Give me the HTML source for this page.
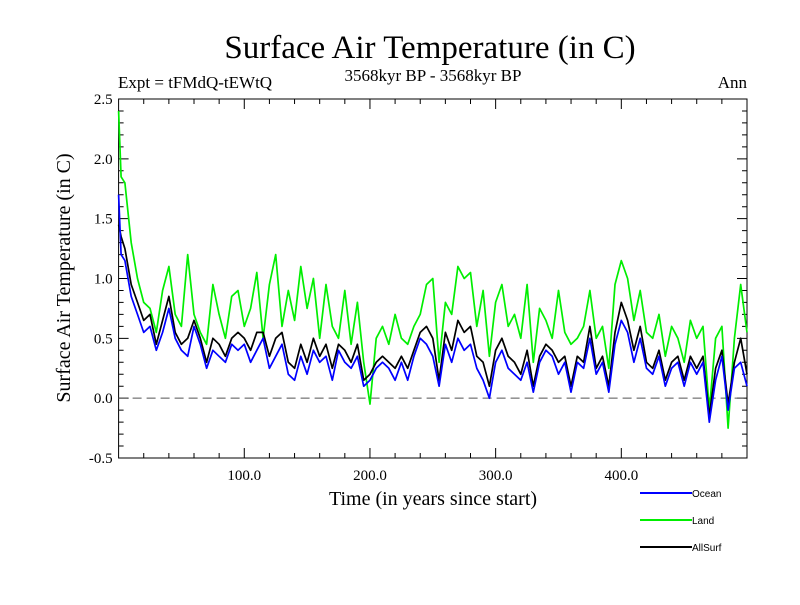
<!DOCTYPE html>
<html><head><meta charset="utf-8"><style>
body{margin:0;background:#fff;}
svg text{font-family:"Liberation Serif",serif;}
</style></head><body>
<svg id="chart" width="800" height="600" xmlns="http://www.w3.org/2000/svg">
<rect width="800" height="600" fill="#fff"/>
<text x="430" y="58" font-size="33" text-anchor="middle">Surface Air Temperature (in C)</text>
<text x="118" y="88" font-size="17">Expt = tFMdQ-tEWtQ</text>
<text x="433" y="81" font-size="17" text-anchor="middle">3568kyr BP - 3568kyr BP</text>
<text x="747" y="88" font-size="17" text-anchor="end">Ann</text>
<text transform="translate(70,278) rotate(-90)" font-size="20" text-anchor="middle">Surface Air Temperature (in C)</text>
<text x="433" y="505" font-size="20" text-anchor="middle">Time (in years since start)</text>
<g id="axes"></g>
<g id="series"></g>
<g id="legend"></g>
</svg>
<script>
const years=[0,2,5,10,15,20,25,30,35,40,45,50,55,60,65,70,75,80,85,90,95,100,105,110,115,120,125,130,135,140,145,150,155,160,165,170,175,180,185,190,195,200,205,210,215,220,225,230,235,240,245,250,255,260,265,270,275,280,285,290,295,300,305,310,315,320,325,330,335,340,345,350,355,360,365,370,375,380,385,390,395,400,405,410,415,420,425,430,435,440,445,450,455,460,465,470,475,480,485,490,495,500];
const ocean=[1.7,1.2,1.15,0.85,0.7,0.55,0.6,0.4,0.55,0.75,0.5,0.4,0.35,0.6,0.45,0.25,0.4,0.35,0.3,0.45,0.4,0.45,0.3,0.4,0.5,0.25,0.35,0.45,0.2,0.15,0.35,0.2,0.4,0.3,0.35,0.15,0.4,0.3,0.25,0.35,0.1,0.15,0.25,0.3,0.25,0.15,0.3,0.15,0.35,0.5,0.45,0.35,0.1,0.45,0.3,0.5,0.4,0.45,0.25,0.15,0.0,0.3,0.4,0.25,0.2,0.15,0.3,0.05,0.3,0.4,0.35,0.2,0.3,0.05,0.3,0.25,0.5,0.2,0.3,0.05,0.45,0.65,0.55,0.3,0.5,0.25,0.2,0.35,0.1,0.25,0.3,0.1,0.3,0.2,0.3,-0.2,0.15,0.35,-0.1,0.25,0.3,0.1];
const land=[2.4,1.85,1.8,1.3,1.0,0.8,0.75,0.55,0.9,1.1,0.7,0.6,1.2,0.7,0.55,0.45,0.95,0.7,0.5,0.85,0.9,0.6,0.75,1.05,0.5,0.95,1.2,0.6,0.9,0.65,1.1,0.75,1.0,0.5,0.95,0.6,0.5,0.9,0.45,0.8,0.3,-0.05,0.5,0.6,0.45,0.7,0.5,0.45,0.6,0.7,0.95,1.0,0.3,0.8,0.7,1.1,1.0,1.05,0.6,0.9,0.35,0.8,0.95,0.6,0.7,0.5,0.95,0.3,0.75,0.65,0.5,0.9,0.55,0.45,0.5,0.6,0.9,0.5,0.6,0.25,0.95,1.15,1.0,0.65,0.9,0.55,0.5,0.7,0.35,0.6,0.5,0.3,0.65,0.5,0.6,-0.1,0.5,0.6,-0.25,0.5,0.95,0.55];
const allsurf=[1.45,1.35,1.25,0.95,0.8,0.65,0.7,0.45,0.65,0.85,0.55,0.45,0.5,0.65,0.5,0.3,0.5,0.45,0.35,0.5,0.55,0.5,0.4,0.55,0.55,0.35,0.5,0.55,0.3,0.25,0.45,0.3,0.5,0.35,0.45,0.25,0.45,0.4,0.3,0.45,0.15,0.2,0.3,0.35,0.3,0.25,0.35,0.25,0.4,0.55,0.6,0.5,0.15,0.55,0.4,0.65,0.55,0.6,0.35,0.3,0.1,0.4,0.5,0.35,0.3,0.2,0.4,0.1,0.35,0.45,0.4,0.3,0.35,0.1,0.35,0.3,0.6,0.25,0.35,0.1,0.55,0.8,0.65,0.4,0.6,0.3,0.25,0.4,0.15,0.3,0.35,0.15,0.35,0.25,0.35,-0.15,0.25,0.4,-0.05,0.3,0.5,0.2];
const yTickLabels=["-0.5","0.0","0.5","1.0","1.5","2.0","2.5"];
const yTickValues=[-0.5,0,0.5,1.0,1.5,2.0,2.5];
const xTickLabels=["100.0","200.0","300.0","400.0"];
const xTickValues=[100,200,300,400];

const L=118.6,R=747,T=99,B=458,x0=0,x1=500,y0=-0.5,y1=2.5;
const X=v=>L+(v-x0)/(x1-x0)*(R-L);
const Y=v=>B-(v-y0)/(y1-y0)*(B-T);
const NS="http://www.w3.org/2000/svg";
function mk(tag,parent){const e=document.createElementNS(NS,tag);document.getElementById(parent).appendChild(e);return e;}
const frame=mk('rect','axes');


frame.setAttribute('x',L);frame.setAttribute('y',T);frame.setAttribute('width',R-L);frame.setAttribute('height',B-T);
frame.setAttribute('fill','none');frame.setAttribute('stroke','#000');frame.setAttribute('stroke-width','1');
let d='';
for(let v=20;v<500;v+=20){const len=(v%100===0)?10:5;const x=X(v);d+=`M${x},${B}v${-len}M${x},${T}v${len}`;}
for(let i=0;i<=30;i++){const v=-0.5+i*0.1;const len=(i%5===0)?10:5;const y=Y(v);d+=`M${L},${y}h${len}M${R},${y}h${-len}`;}
const ticks=mk('path','axes');


ticks.setAttribute('d',d);ticks.setAttribute('stroke','#000');ticks.setAttribute('fill','none');
yTickLabels.forEach((t,i)=>{const e=mk('text','axes');


e.setAttribute('x',L-6);e.setAttribute('y',Y(yTickValues[i])+5);e.setAttribute('text-anchor','end');e.setAttribute('font-size','15');e.textContent=t;});
xTickLabels.forEach((t,i)=>{const e=mk('text','axes');


e.setAttribute('x',X(xTickValues[i]));e.setAttribute('y',B+22);e.setAttribute('text-anchor','middle');e.setAttribute('font-size','15');e.textContent=t;});
const zl=mk('line','axes');


zl.setAttribute('x1',L);zl.setAttribute('x2',R);zl.setAttribute('y1',Y(0));zl.setAttribute('y2',Y(0));
zl.setAttribute('stroke','#555');zl.setAttribute('stroke-dasharray','9,5');
function line(arr,color,name){const p=mk('polyline','series');


p.setAttribute('points',arr.map((v,i)=>X(years[i]).toFixed(1)+','+Y(v).toFixed(1)).join(' '));
p.setAttribute('fill','none');p.setAttribute('stroke',color);p.setAttribute('stroke-width','1.7');p.setAttribute('stroke-linejoin','round');}
line(land,'#00ee00','land-line');
line(allsurf,'#000','allsurf-line');
line(ocean,'#0000ff','ocean-line');
const leg=[['Ocean','#0000ff',493],['Land','#00ee00',520],['AllSurf','#000',547]];
leg.forEach(([n,c,y])=>{const l=mk('line','legend');


l.setAttribute('x1',640);l.setAttribute('x2',692);l.setAttribute('y1',y);l.setAttribute('y2',y);l.setAttribute('stroke',c);l.setAttribute('stroke-width','2');
const t=mk('text','legend');


t.setAttribute('x',692);t.setAttribute('y',y+4);t.setAttribute('font-size','10');t.setAttribute('style','font-family:"Liberation Sans",sans-serif');t.textContent=n;});
</script>
</body></html>
